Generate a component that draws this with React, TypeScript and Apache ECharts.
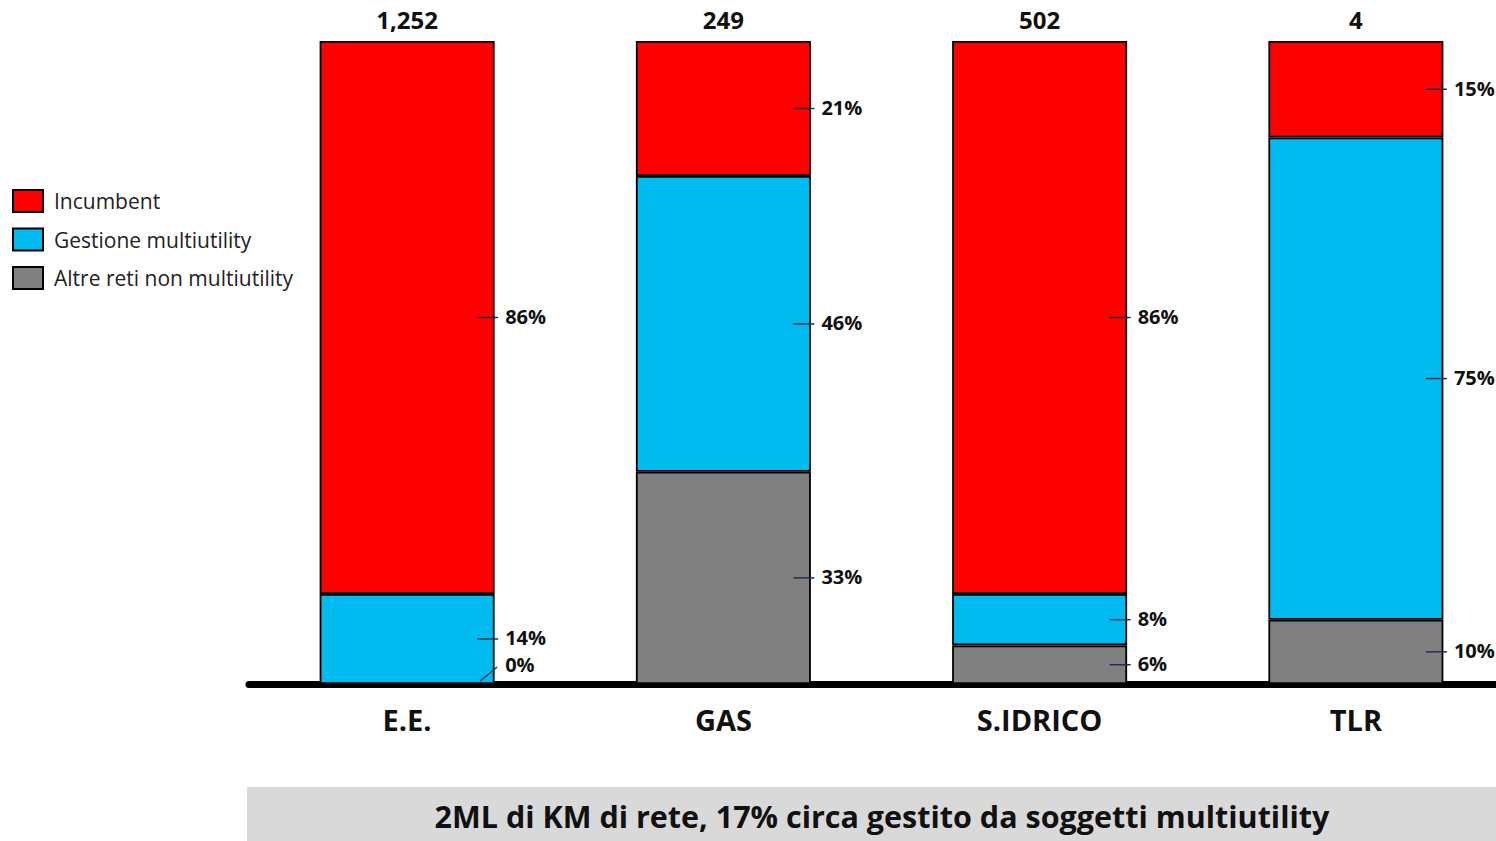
import React, { useEffect, useRef } from "react";
import * as echarts from "echarts";

const categories = ["E.E.", "GAS", "S.IDRICO", "TLR"];
const totals = ["1,252", "249", "502", "4"];
const altre = [0, 33, 6, 10];
const gestione = [14, 46, 8, 75];
const incumbent = [86, 21, 86, 15];
const seriesNames = ["Altre reti non multiutility", "Gestione multiutility", "Incumbent"];
const seriesColors = ["#808080", "#00bbf0", "#ff0000"];
const footerText = "2ML di KM di rete, 17% circa gestito da soggetti multiutility";

const FONT = "'Open Sans', Lato, sans-serif";

export default function App() {
  const ref = useRef<HTMLDivElement>(null);
  useEffect(() => {
    if (!ref.current) return;
    const chart = echarts.init(ref.current, null, { renderer: "svg" });
    const stacks = [altre, gestione, incumbent];
    const labelData: any[] = [];
    categories.forEach((_, i) => {
      let base = 0;
      stacks.forEach((arr) => {
        const v = arr[i];
        labelData.push([i, base + v / 2, v + "%", v]);
        base += v;
      });
    });
    const barSeries = stacks.map((arr, k) => ({
      name: seriesNames[k],
      type: "bar",
      stack: "total",
      data: arr,
      barWidth: 175,
      itemStyle: { color: seriesColors[k], borderColor: "#000", borderWidth: 1.8 },
      label:
        k === 2
          ? {
              show: true,
              position: "top",
              distance: 10,
              formatter: (p: any) => totals[p.dataIndex],
              fontFamily: FONT,
              fontWeight: "bold",
              fontSize: 24,
              lineHeight: 24,
              color: "#111",
            }
          : { show: false },
      emphasis: { disabled: true },
    }));
    chart.setOption({
      animation: false,
      grid: { left: 249, right: 16, top: 41, bottom: 157 },
      legend: {
        orient: "vertical",
        left: 12,
        top: 189,
        padding: 0,
        itemWidth: 30,
        itemHeight: 22,
        itemGap: 14.5,
        icon: "rect",
        data: ["Incumbent", "Gestione multiutility", "Altre reti non multiutility"],
        textStyle: {
          fontFamily: FONT,
          fontSize: 21,
          lineHeight: 22,
          color: "#222",
          padding: [0, 0, 0, 6],
        },
      },
      xAxis: {
        type: "category",
        data: categories,
        axisTick: { show: false },
        axisLine: { lineStyle: { color: "#000", width: 7 } },
        axisLabel: {
          margin: 21,
          fontFamily: FONT,
          fontWeight: "bold",
          fontSize: 29,
          color: "#111",
        },
      },
      yAxis: { type: "value", min: 0, max: 100, show: false, splitLine: { show: false } },
      series: [
        ...barSeries,
        {
          type: "custom",
          coordinateSystem: "cartesian2d",
          clip: false,
          z: 10,
          silent: true,
          encode: { x: 0, y: 1 },
          data: labelData,
          renderItem: (params: any, api: any) => {
            const p = api.coord([api.value(0), api.value(1)]);
            const v = api.value(3);
            const txt = labelData[params.dataIndex][2];
            const rx = p[0] + 88;
            const zero = v === 0;
            return {
              type: "group",
              children: [
                {
                  type: "line",
                  shape: zero
                    ? { x1: rx - 15, y1: p[1] - 3, x2: rx + 2, y2: p[1] - 17 }
                    : { x1: rx - 18, y1: p[1], x2: rx + 3, y2: p[1] },
                  style: { stroke: "#1f2f4f", lineWidth: 1.5 },
                },
                {
                  type: "text",
                  style: {
                    text: txt,
                    x: rx + 10,
                    y: zero ? p[1] - 20 : p[1] - 1,
                    verticalAlign: "middle",
                    font: `bold 20px ${FONT}`,
                    lineHeight: 20,
                    fill: "#111",
                  },
                },
              ],
            };
          },
        },
      ],
      graphic: [
        {
          type: "rect",
          shape: { x: 247, y: 787, width: 1300, height: 54 },
          style: { fill: "#d9d9d9" },
        },
        {
          type: "text",
          x: 882,
          y: 816,
          style: {
            text: footerText,
            align: "center",
            verticalAlign: "middle",
            font: `bold 30.5px ${FONT}`,
            fill: "#111",
          },
        },
      ],
    });
    return () => chart.dispose();
  }, []);
  return (
    <div
      style={{
        position: "absolute",
        left: 0,
        top: 0,
        width: 1496,
        height: 841,
        overflow: "hidden",
        background: "#fff",
      }}
    >
      <div ref={ref} style={{ width: 1530, height: 841 }} />
    </div>
  );
}
